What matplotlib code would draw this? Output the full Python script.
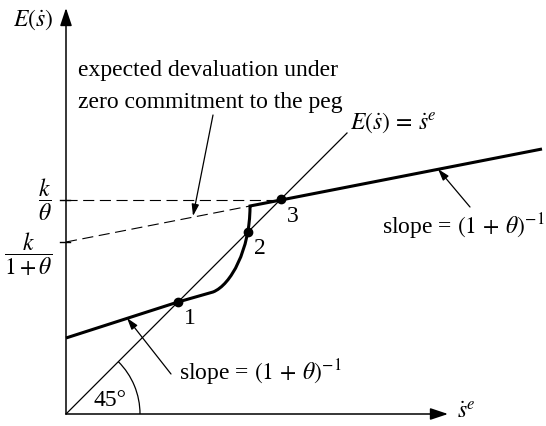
import matplotlib
matplotlib.use("Agg")
import matplotlib.pyplot as plt
from matplotlib.path import Path
from matplotlib.patches import PathPatch, Arc

plt.rcParams['font.family'] = ['Liberation Serif', 'DejaVu Serif']
plt.rcParams['mathtext.fontset'] = 'stix'
FS = 17

# diagram coordinates (origin at the axes corner)
lower_x = [0, 112, 147]
lower_y = [76, 112, 122]
curve_x = [147, 165, 184, 184]          # cubic bezier: start, two controls, end
curve_y = [122, 129, 165, 207]
upper_x = [184, 215, 476]
upper_y = [208, 214, 265]
zero_commit_x = [0, 184]
zero_commit_y = [172, 208]
k_theta = 214
k_one_theta = 172
eq_x = [112, 182, 215]
eq_y = [112, 182, 215]
eq_labels = ['1', '2', '3']
eq_label_pos = [(124, 96), (194, 166), (227, 197)]
diag_end = 281

fig = plt.figure(figsize=(5.46, 4.26), dpi=100)
ax = fig.add_axes([0, 0, 1, 1])
ax.set_xlim(-66, 480)
ax.set_ylim(-12, 414)
ax.axis('off')

# axes with arrowheads
axis_arrow = dict(arrowstyle='-|>,head_length=0.6,head_width=0.2', lw=1.1,
                  color='black', mutation_scale=18, shrinkA=0, shrinkB=0)
ax.annotate('', xy=(0, 406), xytext=(0, 0), arrowprops=axis_arrow)
ax.annotate('', xy=(382, 0), xytext=(0, 0), arrowprops=axis_arrow)
ax.text(-53, 394, r'$E(\dot{s})$', fontsize=FS, ha='left', va='center')
ax.text(391, 1, r'$\dot{s}^{e}$', fontsize=FS, ha='left', va='center')

# 45 degree line
ax.plot([0, diag_end], [0, diag_end], color='black', lw=0.9)
ax.add_patch(Arc((0, 0), 148, 148, theta1=0, theta2=45, lw=0.9, color='black'))
ax.text(44, 14, '45°', fontsize=FS, ha='center', va='center')
ax.text(284, 291, r'$E(\dot{s})\,=\,\dot{s}^{e}$', fontsize=FS, ha='left', va='center')

# dashed reference lines
ax.plot([0, upper_x[1]], [k_theta, k_theta], color='black', lw=0.8,
        linestyle=(0, (10, 5)))
ax.plot(zero_commit_x, zero_commit_y, color='black', lw=0.8,
        linestyle=(0, (10, 5)))
for yv in (k_theta, k_one_theta):
    ax.plot([-6, 4], [yv, yv], color='black', lw=1.0)
ax.text(-14, k_theta, r'$\dfrac{k}{\theta}$', fontsize=FS, ha='right', va='center')
ax.text(-14, k_one_theta - 12, r'$\dfrac{k}{1+\theta}$', fontsize=FS,
        ha='right', va='center')

# expected devaluation schedule
verts = list(zip(lower_x, lower_y)) + list(zip(curve_x[1:], curve_y[1:])) \
    + list(zip(upper_x, upper_y))
codes = [Path.MOVETO] + [Path.LINETO] * (len(lower_x) - 1) \
    + [Path.CURVE4] * 3 + [Path.LINETO] * len(upper_x)
ax.add_patch(PathPatch(Path(verts, codes), fill=False, lw=2.2,
                       edgecolor='black', joinstyle='miter', capstyle='butt'))

ax.plot(eq_x, eq_y, 'o', color='black', markersize=6)
for lab, (lx, ly) in zip(eq_labels, eq_label_pos):
    ax.text(lx, ly, lab, fontsize=FS, ha='center', va='center')

# annotations
lead = dict(arrowstyle='-|>,head_length=0.7,head_width=0.22', lw=0.9,
            color='black', mutation_scale=10, shrinkA=0, shrinkB=0)
ax.text(12, 338, 'expected devaluation under', fontsize=FS, ha='left', va='baseline')
ax.text(12, 306, 'zero commitment to the peg', fontsize=FS, ha='left', va='baseline')
ax.annotate('', xy=(127, 198), xytext=(147, 299), arrowprops=lead)

ax.text(316, 187, r'slope = $(1\,+\,\theta)^{-1}$', fontsize=FS, ha='left', va='center')
ax.annotate('', xy=(372, 245), xytext=(404, 207), arrowprops=lead)

ax.text(113, 41, r'slope = $(1\,+\,\theta)^{-1}$', fontsize=FS, ha='left', va='center')
ax.annotate('', xy=(61, 96), xytext=(105, 40), arrowprops=lead)

fig.savefig('out.png', dpi=100)
